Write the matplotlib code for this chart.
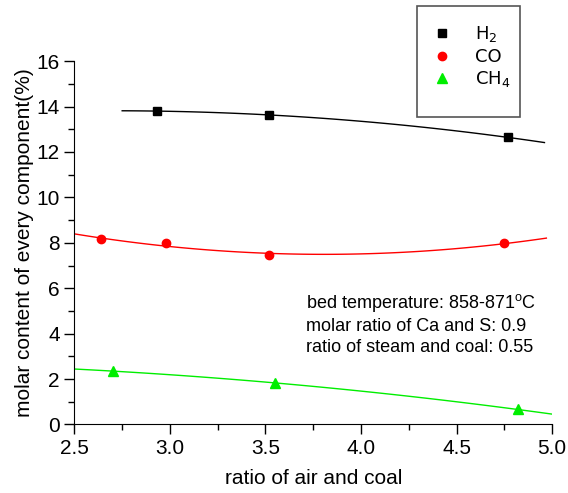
import numpy as np
import matplotlib.pyplot as plt
from matplotlib.patches import Rectangle
from matplotlib.ticker import MultipleLocator

plt.rcParams['font.family'] = ['Liberation Sans', 'DejaVu Sans']
plt.rcParams['mathtext.default'] = 'regular'

# measured points
h2_x = [2.93, 3.52, 4.77]
h2_y = [13.80, 13.63, 12.64]
co_x = [2.64, 2.98, 3.52, 4.75]
co_y = [8.15, 7.97, 7.47, 7.97]
ch4_x = [2.70, 3.55, 4.82]
ch4_y = [2.35, 1.83, 0.66]
# x range of each fitted curve
h2_fit_range = [2.75, 4.96]
co_fit_range = [2.5, 4.97]
ch4_fit_range = [2.5, 5.0]

fig = plt.figure(figsize=(5.68, 4.93), dpi=100)
ax = fig.add_axes([0.131, 0.139, 0.841, 0.737])

series = [
    (h2_x, h2_y, h2_fit_range, 'black', 's', 5.5, 'H$_2$'),
    (co_x, co_y, co_fit_range, 'red', 'o', 6, 'CO'),
    (ch4_x, ch4_y, ch4_fit_range, '#00ee00', '^', 6.5, 'CH$_4$'),
]
handles = []
for x, y, rng, c, m, ms, lab in series:
    p = np.polyfit(x, y, 2)
    xx = np.linspace(rng[0], rng[1], 100)
    ax.plot(xx, np.polyval(p, xx), color=c, lw=1.0)
    h, = ax.plot(x, y, linestyle='none', marker=m, color=c, ms=ms, label=lab)
    handles.append(h)

ax.set_xlim(2.5, 5.0)
ax.set_ylim(0, 16)
ax.xaxis.set_major_locator(MultipleLocator(0.5))
ax.xaxis.set_minor_locator(MultipleLocator(0.25))
ax.yaxis.set_major_locator(MultipleLocator(2))
ax.yaxis.set_minor_locator(MultipleLocator(1))
ax.tick_params(which='major', direction='out', length=7, width=1, labelsize=15)
ax.tick_params(which='minor', direction='out', length=4, width=1)
ax.spines['top'].set_visible(False)
ax.spines['right'].set_visible(False)
ax.set_xlabel('ratio of air and coal', fontsize=15, labelpad=8)
ax.set_ylabel('molar content of every component(%)', fontsize=15, labelpad=2)

ax.text(3.71, 5.82,
        'bed temperature: 858-871$^{o}$C\nmolar ratio of Ca and S: 0.9\nratio of steam and coal: 0.55',
        fontsize=13, ha='left', va='top', linespacing=1.3)

fig.patches.append(Rectangle((417 / 568, 1 - 117 / 493), 103 / 568, 111 / 493,
                             transform=fig.transFigure, fill=False,
                             edgecolor='#555555', lw=1.2))
fig.legend(handles=handles, loc='upper left', bbox_to_anchor=(412 / 568, 1 - 8 / 493),
           frameon=False, handletextpad=1.1, labelspacing=0.2, handlelength=1.5,
           prop={'family': ['Liberation Sans Narrow', 'DejaVu Sans Condensed', 'DejaVu Sans'],
                 'size': 13})

fig.savefig('out.png', dpi=100)
